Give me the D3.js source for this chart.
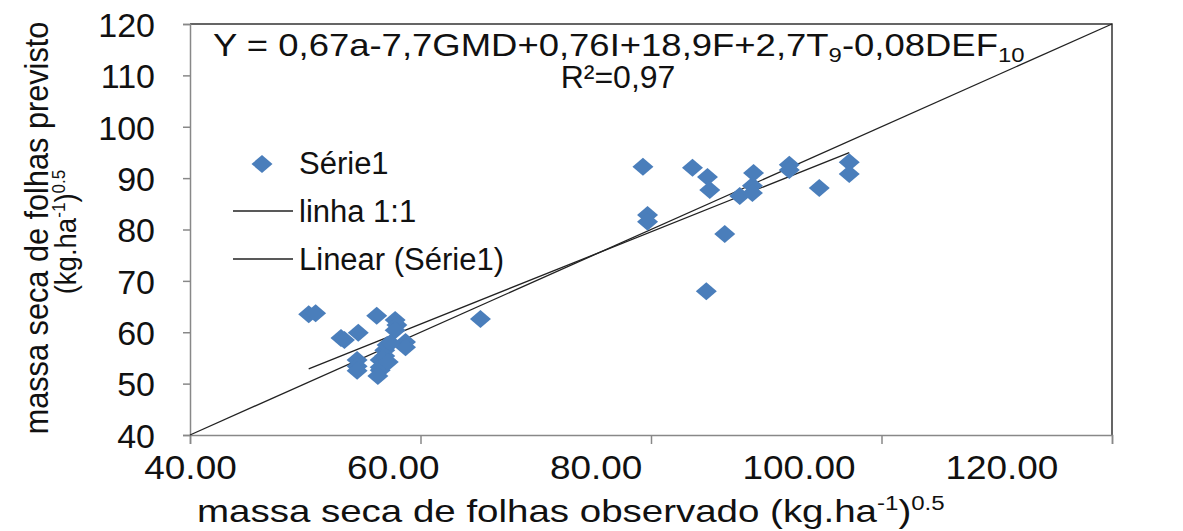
<!DOCTYPE html>
<html>
<head>
<meta charset="utf-8">
<script src="https://cdn.jsdelivr.net/npm/d3@7"></script>
<style>
  body { margin: 0; background: #fff; }
  text { font-family: "Liberation Sans", Arial, sans-serif; fill: #111; }
</style>
</head>
<body>
<script>
// observed vs predicted (sqrt of leaf dry mass)
var observed = [50.3, 50.9, 53.1, 53.4, 54.6, 56.2, 57.8, 57.95, 57.8, 58.7, 58.7,
  54.5, 54.5, 54.5, 56.5, 56.5, 56.5, 56.9, 56.9, 57.1, 57.4, 57.2, 56.3, 65.2,
  79.3, 79.7, 79.7, 83.6, 84.9, 85.1, 84.8, 86.4, 87.7, 88.8, 88.8, 88.9,
  92.0, 92.0, 94.6, 97.2, 97.2];
var predicted = [63.5, 63.7, 58.9, 58.5, 59.9, 63.2, 62.4, 61.4, 60.4, 58.1, 57.1,
  54.6, 53.4, 52.5, 54.6, 52.6, 53.2, 56.5, 55.4, 57.5, 57.9, 54.2, 51.5, 62.6,
  92.2, 82.8, 81.5, 92.0, 90.2, 87.7, 68.0, 79.1, 86.5, 88.5, 87.1, 91.0,
  92.6, 91.6, 88.1, 93.1, 90.8];
var xTicks = [40, 60, 80, 100, 120];
var yTicks = [40, 50, 60, 70, 80, 90, 100, 110, 120];
var legendLabels = ['Série1', 'linha 1:1', 'Linear (Série1)'];

var points = observed.map(function(d, i) { return {x: d, y: predicted[i]}; });

var margin = {top: 24, right: 71, bottom: 96, left: 190};
var fullWidth = 1183;
var fullHeight = 531;
var width = fullWidth - margin.left - margin.right;
var height = fullHeight - margin.top - margin.bottom;

var svg = d3.select('body').append('svg')
  .attr('width', fullWidth)
  .attr('height', fullHeight);

var g = svg.append('g')
  .attr('transform', 'translate(' + margin.left + ',' + margin.top + ')');

var xScale = d3.scaleLinear().domain([40, 120]).range([0, width]);
var yScale = d3.scaleLinear().domain([40, 120]).range([height, 0]);

// stretch a text element horizontally so it spans [x0, x1]
function fitWidth(sel, x0, x1) {
  var w = sel.node().getBBox().width;
  sel.attr('transform', 'translate(' + x0 + ',0) scale(' + ((x1 - x0) / w) + ',1)');
}

// frame: top and right
g.append('path')
  .attr('d', 'M0,0H' + width + 'V' + height)
  .attr('fill', 'none')
  .attr('stroke', '#333')
  .attr('stroke-width', 1.5);

var xAxis = d3.axisBottom(xScale).tickValues(xTicks).tickSize(9).tickFormat(d3.format('.2f'));
var yAxis = d3.axisLeft(yScale).tickValues(yTicks).tickSize(7).tickFormat(d3.format('d'));

var xAxisEle = g.append('g')
  .attr('transform', 'translate(0,' + height + ')')
  .call(xAxis);
xAxisEle.selectAll('text')
  .attr('y', 44)
  .attr('dy', 0)
  .style('font-size', '33px')
  .attr('transform', 'scale(1.12,1)')
  .each(function(d) {
    d3.select(this).attr('x', xScale(d) / 1.12 - xScale(d));
  });

var yAxisEle = g.append('g').call(yAxis);
yAxisEle.selectAll('text')
  .attr('x', -35)
  .attr('dy', '0.36em')
  .style('font-size', '34px');

[xAxisEle, yAxisEle].forEach(function(a) {
  a.select('.domain').attr('stroke', '#888').attr('stroke-width', 1.5);
  a.selectAll('.tick line').attr('stroke', '#888').attr('stroke-width', 1.5);
});

// 1:1 line
g.append('line')
  .attr('x1', xScale(40)).attr('y1', yScale(40))
  .attr('x2', xScale(120)).attr('y2', yScale(120))
  .attr('stroke', '#222').attr('stroke-width', 1.3);

// linear trend of the series
var mx = d3.mean(observed), my = d3.mean(predicted);
var sxy = d3.sum(points, function(p) { return (p.x - mx) * (p.y - my); });
var sxx = d3.sum(points, function(p) { return (p.x - mx) * (p.x - mx); });
var slope = sxy / sxx;
var intercept = my - slope * mx;
var xMin = d3.min(observed), xMax = d3.max(observed);
g.append('line')
  .attr('x1', xScale(xMin)).attr('y1', yScale(intercept + slope * xMin))
  .attr('x2', xScale(xMax)).attr('y2', yScale(intercept + slope * xMax))
  .attr('stroke', '#222').attr('stroke-width', 1.3);

var diamond = 'M0,-9L10.5,0L0,9L-10.5,0Z';
g.append('g').selectAll('path')
  .data(points)
  .enter().append('path')
    .attr('d', diamond)
    .attr('transform', function(d) { return 'translate(' + xScale(d.x) + ',' + yScale(d.y) + ')'; })
    .attr('fill', '#4a7ebb');

// equation
var eq = svg.append('text').attr('y', 56).style('font-size', '32px');
eq.append('tspan').text('Y = 0,67a-7,7GMD+0,76I+18,9F+2,7T');
eq.append('tspan').attr('dy', 6).style('font-size', '21px').text('9');
eq.append('tspan').attr('dy', -6).text('-0,08DEF');
eq.append('tspan').attr('dy', 6).style('font-size', '21px').text('10');
fitWidth(eq, 213, 1025);

svg.append('text')
  .attr('x', 618).attr('y', 88)
  .attr('text-anchor', 'middle')
  .style('font-size', '32px')
  .text('R²=0,97');

// legend
svg.append('path')
  .attr('d', diamond)
  .attr('transform', 'translate(262,164)')
  .attr('fill', '#4a7ebb');
[211, 259].forEach(function(y) {
  svg.append('line')
    .attr('x1', 233).attr('x2', 293)
    .attr('y1', y).attr('y2', y)
    .attr('stroke', '#222').attr('stroke-width', 1.3);
});
var legendY = [174, 222, 270];
legendLabels.forEach(function(l, i) {
  svg.append('text')
    .attr('x', 299).attr('y', legendY[i])
    .style('font-size', '31px')
    .text(l);
});

// x title
var xt = svg.append('text').attr('y', 522).style('font-size', '32px');
xt.append('tspan').text('massa seca de folhas observado (kg.ha');
xt.append('tspan').attr('dy', -12).style('font-size', '20px').text('-1');
xt.append('tspan').attr('dy', 12).text(')');
xt.append('tspan').attr('dy', -12).style('font-size', '20px').text('0.5');
fitWidth(xt, 197, 945);

// y title (two lines)
svg.append('text')
  .attr('transform', 'translate(48,228) rotate(-90) scale(0.93,1)')
  .attr('text-anchor', 'middle')
  .style('font-size', '33px')
  .text('massa seca de folhas previsto');
var yt2 = svg.append('text')
  .attr('transform', 'translate(76,232) rotate(-90) scale(0.95,1)')
  .attr('text-anchor', 'middle')
  .style('font-size', '29px');
yt2.append('tspan').text('(kg.ha');
yt2.append('tspan').attr('dy', -11).style('font-size', '18px').text('-1');
yt2.append('tspan').attr('dy', 11).text(')');
yt2.append('tspan').attr('dy', -11).style('font-size', '18px').text('0.5');
</script>
</body>
</html>
